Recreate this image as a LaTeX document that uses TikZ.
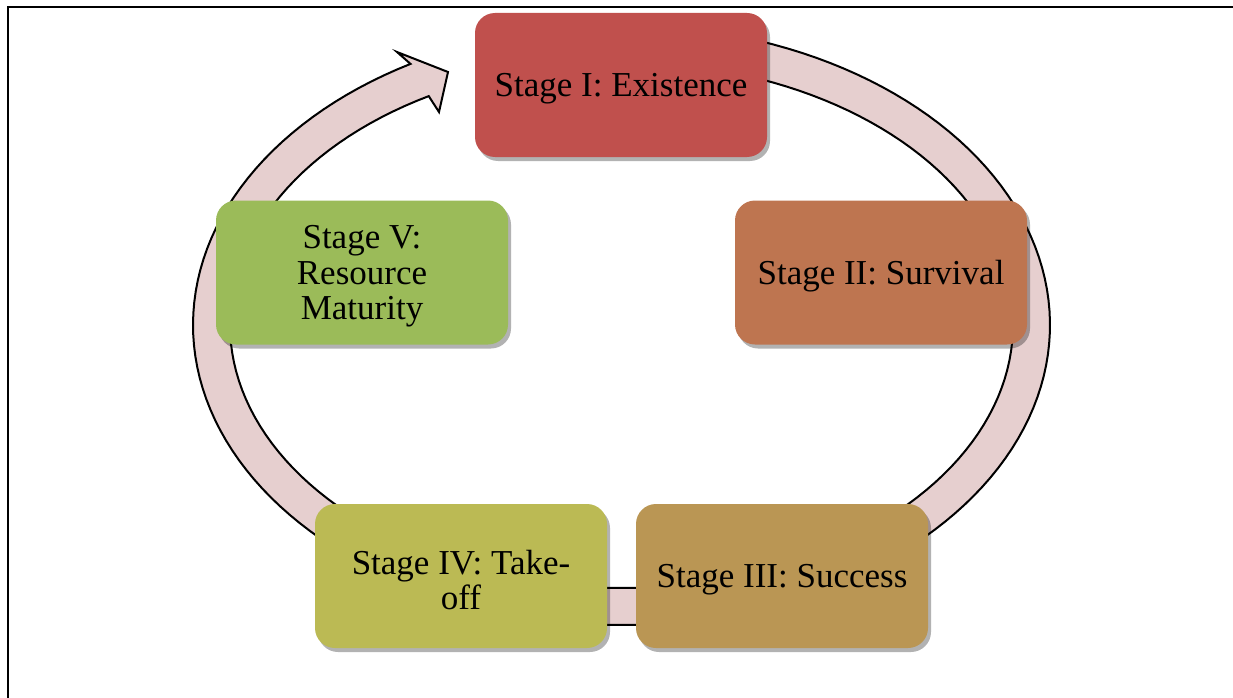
\documentclass[tikz,border=0pt]{standalone}
\usepackage{fontspec}
\setmainfont{Liberation Serif}
\usetikzlibrary{shadows}
\definecolor{sI}{RGB}{192,80,77}
\definecolor{sII}{RGB}{190,117,80}
\definecolor{sIII}{RGB}{186,150,84}
\definecolor{sIV}{RGB}{187,186,84}
\definecolor{sV}{RGB}{155,187,89}
\definecolor{ringfill}{RGB}{230,207,207}
\begin{document}
\begin{tikzpicture}[x=1pt,y=-1pt,
  stagebox/.style={rounded corners=20pt, minimum width=292pt, minimum height=144pt,
    inner sep=0pt,
    drop shadow={shadow xshift=3pt,shadow yshift=-4pt,opacity=0.3,fill=black}},
  stagetext/.style={align=center, font=\fontsize{35}{35.5}\selectfont, text=black, yshift=-4pt, inner sep=0pt},
  ring/.style={fill=ringfill, draw=black, line width=2pt, line join=miter}]
\useasboundingbox (0,0) rectangle (1233,698);
\fill[white] (0,0) rectangle (1233,698);
\draw[line width=2.5pt] (1233,7) -- (8,7) -- (8,698);
\def\cx{621.5}\def\cy{325}
\filldraw[ring] plot[domain=90:-240.5, samples=160] ({\cx+428.5*cos(\x)},{\cy-300*sin(\x)})
  -- (397,52) -- (448,72) -- (439,112)
  -- plot[domain=-240.5:90, samples=160] ({\cx+391.5*cos(\x)},{\cy-263*sin(\x)}) -- cycle;
\node[stagebox, fill=sI, label={[stagetext]center:Stage I: Existence}] (s1) at (621,85) {};
\node[stagebox, fill=sII, label={[stagetext]center:Stage II: Survival}] (s2) at (881,272.5) {};
\node[stagebox, fill=sIII, label={[stagetext]center:Stage III: Success}] (s3) at (782,576) {};
\node[stagebox, fill=sIV, label={[stagetext]center:{Stage IV: Take-\\off}}] (s4) at (461,576) {};
\node[stagebox, fill=sV, label={[stagetext]center:{Stage V:\\Resource\\Maturity}}] (s5) at (362,272.5) {};
\end{tikzpicture}
\end{document}
